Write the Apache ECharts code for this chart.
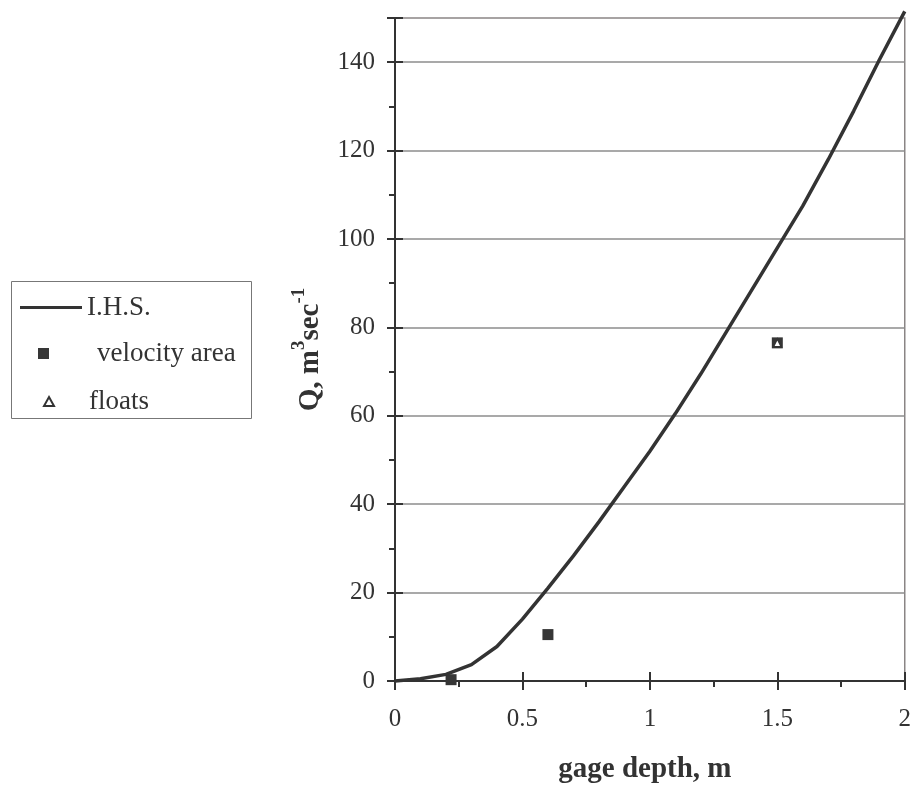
<!DOCTYPE html>
<html>
<head>
<meta charset="utf-8">
<script src="https://cdn.jsdelivr.net/npm/echarts@6/dist/echarts.min.js"></script>
<style>
  html, body { margin: 0; padding: 0; background: #fff; }
  #chart { width: 914px; height: 789px; }
</style>
</head>
<body>
<div id="chart"></div>
<script>
// Rating curve (I.H.S.) and measured discharges
const depth = [0, 0.1, 0.2, 0.3, 0.4, 0.5, 0.6, 0.7, 0.8, 0.9, 1.0,
               1.1, 1.2, 1.3, 1.4, 1.5, 1.6, 1.7, 1.8, 1.9, 2.0];
const ihsQ = [0, 0.5, 1.5, 3.7, 7.8, 14, 21, 28.3, 36, 44, 52,
              60.5, 69.5, 79, 88.5, 98, 107.5, 118, 129, 140.5, 151.5];

const velocityDepth = [0.22, 0.6, 1.5];
const velocityQ = [0.3, 10.5, 76.5];

const floatsDepth = [1.5];
const floatsQ = [76.5];

const xTickLabels = ['0', '0.5', '1', '1.5', '2'];
const yTickLabels = ['0', '20', '40', '60', '80', '100', '120', '140'];

const FONT = 'Liberation Serif';
const INK = '#333333';

const pairs = (xs, ys) => xs.map((x, i) => [x, ys[i]]);

const chart = echarts.init(document.getElementById('chart'), null, { renderer: 'canvas' });

const tickStyle = { color: INK, width: 2 };

chart.setOption({
  animation: false,
  backgroundColor: '#ffffff',
  grid: {
    left: 395, top: 18, width: 512, height: 665,
    show: true, borderColor: '#8a8585', borderWidth: 1.5,
    backgroundColor: 'transparent'
  },
  xAxis: [
    {
      type: 'value', min: 0, max: 2, interval: 0.5, position: 'bottom',
      axisLine: { show: true, onZero: false, lineStyle: { color: INK, width: 2 } },
      axisTick: { show: true, length: 9, lineStyle: tickStyle },
      minorTick: { show: true, splitNumber: 2, length: 6, lineStyle: tickStyle },
      axisLabel: {
        fontFamily: FONT, fontSize: 25, color: INK, margin: 26,
        formatter: v => xTickLabels[Math.round(v / 0.5)] ?? ''
      },
      splitLine: { show: false },
      name: 'gage depth, m', nameLocation: 'middle', nameGap: 74,
      nameTextStyle: { fontFamily: FONT, fontSize: 29, fontWeight: 'bold', color: INK, padding: [0, 10, 0, 0] }
    },
    {
      // inner half of the major ticks
      type: 'value', min: 0, max: 2, interval: 0.5, position: 'bottom',
      axisLine: { show: false },
      axisTick: { show: true, inside: true, length: 9, lineStyle: tickStyle },
      axisLabel: { show: false },
      splitLine: { show: false }
    }
  ],
  yAxis: [
    {
      type: 'value', min: 0, max: 150, interval: 10, position: 'left',
      axisLine: { show: true, onZero: false, lineStyle: { color: INK, width: 2 } },
      axisTick: { show: true, length: 6, lineStyle: tickStyle },
      axisLabel: {
        fontFamily: FONT, fontSize: 25, color: INK, margin: 20,
        formatter: v => (v % 20 === 0 ? (yTickLabels[v / 20] ?? '') : '')
      },
      splitLine: { show: false },
      name: '{a|Q, m}{s|3}{a|sec}{s|-1}',
      nameLocation: 'middle', nameRotate: 90, nameGap: 70,
      nameTextStyle: {
        fontFamily: FONT, fontWeight: 'bold', color: INK,
        rich: {
          a: { fontFamily: FONT, fontSize: 29, fontWeight: 'bold', color: INK, lineHeight: 35, verticalAlign: 'bottom' },
          s: { fontFamily: FONT, fontSize: 19, fontWeight: 'bold', color: INK, lineHeight: 19, verticalAlign: 'top' }
        }
      }
    },
    {
      // gridlines and inner half of the major ticks
      type: 'value', min: 0, max: 150, interval: 20, position: 'left',
      axisLine: { show: false },
      axisTick: { show: true, inside: true, length: 8, lineStyle: tickStyle },
      axisLabel: { show: false },
      splitLine: { show: true, showMinLine: false, showMaxLine: false, lineStyle: { color: '#8c8c8c', width: 1.5 } }
    },
    {
      // outer half of the major ticks
      type: 'value', min: 0, max: 150, interval: 20, position: 'left',
      axisLine: { show: false },
      axisTick: { show: true, length: 8, lineStyle: tickStyle },
      axisLabel: { show: false },
      splitLine: { show: false }
    }
  ],
  legend: [
    {
      data: [{ name: 'I.H.S.', icon: 'rect', itemStyle: { color: INK } }],
      left: 20, top: 294, padding: 0,
      itemWidth: 62, itemHeight: 3,
      textStyle: { fontFamily: FONT, fontSize: 27, color: INK, lineHeight: 24 }
    },
    {
      data: ['velocity area'], left: 38, top: 340, padding: 0,
      itemWidth: 11, itemHeight: 11, icon: 'rect',
      formatter: name => '{g|}' + name,
      textStyle: { fontFamily: FONT, fontSize: 27, color: INK, lineHeight: 24, rich: { g: { width: 43 } } }
    },
    {
      data: ['floats'], left: 43, top: 388, padding: 0,
      itemWidth: 10, itemHeight: 9, icon: 'triangle',
      formatter: name => '{g|}' + name,
      textStyle: { fontFamily: FONT, fontSize: 27, color: INK, lineHeight: 24, rich: { g: { width: 30 } } }
    }
  ],
  graphic: [
    {
      type: 'rect', silent: true,
      shape: { x: 11.5, y: 281.5, width: 240, height: 137 },
      style: { fill: 'none', stroke: '#777777', lineWidth: 1 }
    }
  ],
  series: [
    {
      name: 'I.H.S.', type: 'line', xAxisIndex: 0, yAxisIndex: 0,
      data: pairs(depth, ihsQ), symbol: 'none', clip: false,
      color: INK, lineStyle: { color: INK, width: 3.5 }
    },
    {
      name: 'velocity area', type: 'scatter', xAxisIndex: 0, yAxisIndex: 0,
      data: pairs(velocityDepth, velocityQ), symbol: 'rect', symbolSize: 11,
      itemStyle: { color: '#363636', opacity: 1 }
    },
    {
      name: 'floats', type: 'scatter', xAxisIndex: 0, yAxisIndex: 0,
      data: pairs(floatsDepth, floatsQ), symbol: 'triangle', symbolSize: 8,
      itemStyle: { color: '#ffffff', borderColor: INK, borderWidth: 1.5, opacity: 1 }
    }
  ]
});
</script>
</body>
</html>
